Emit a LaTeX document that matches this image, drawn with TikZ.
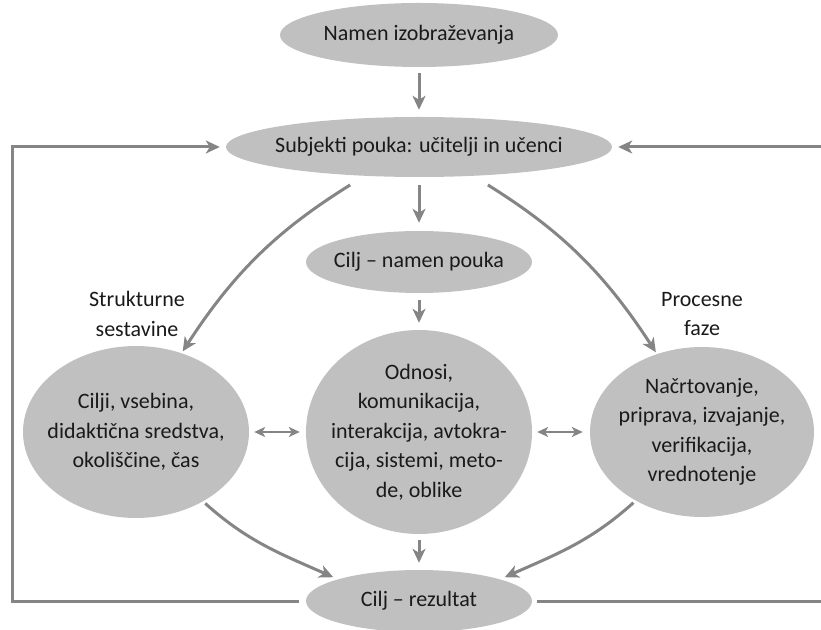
\documentclass[tikz,border=0pt]{standalone}
\usepackage{fontspec}
\setmainfont{Carlito}
\usetikzlibrary{arrows.meta,shapes.geometric}
\definecolor{blobgray}{HTML}{C0C0C0}
\definecolor{linegray}{HTML}{858585}
\definecolor{ink}{HTML}{1A1A1A}

\begin{document}
\begin{tikzpicture}[x=1pt,y=1pt,
  blob/.style 2 args={ellipse, fill=blobgray, draw=none,
    minimum width=#1pt, minimum height=#2pt, inner sep=0pt},
  txt/.style={align=center, font=\fontsize{22}{29.5}\selectfont, text=ink, inner sep=0pt},
  link/.style={draw=linegray, line width=3pt,
    -{Stealth[length=14pt,width=13pt,inset=4pt]}},
  pair/.style={draw=linegray, line width=2pt,
    {Stealth[length=11pt,width=10pt,inset=3pt]}-{Stealth[length=11pt,width=10pt,inset=3pt]}},
  frame/.style={draw=linegray, line width=3pt}
]
\useasboundingbox (0,0) rectangle (821,629);

% ellipses
\node[blob={278}{64}]  (nam) at (419,594) {};
\node[blob={386}{60}]  (sub) at (419,482) {};
\node[blob={226}{62}]  (cnp) at (419,367) {};
\node[blob={226}{172}] (L)   at (136,197) {};
\node[blob={226}{204}] (M)   at (419,197) {};
\node[blob={224}{170}] (R)   at (702,197) {};
\node[blob={226}{62}]  (bot) at (419,28)  {};

% texts
\node[txt] (namt) at (nam) {Namen izobraževanja};
\node[txt] (subt) at (sub) {Subjekti pouka: učitelji in učenci};
\node[txt] (cnpt) at (cnp) {Cilj – namen pouka};
\node[txt] (Lt)   at (L)   {Cilji, vsebina,\\didaktična sredstva,\\okoliščine, čas};
\node[txt] (Mt)   at (M)   {Odnosi,\\komunikacija,\\interakcija, avtokra-\\cija, sistemi, meto-\\de, oblike};
\node[txt] (Rt)   at (R)   {Načrtovanje,\\priprava, izvajanje,\\verifikacija,\\vrednotenje};
\node[txt] (bott) at (bot) {Cilj – rezultat};
\node[txt] (lab1) at (137,315) {Strukturne\\sestavine};
\node[txt] (lab2) at (702,315) {Procesne\\faze};

% vertical arrows
\draw[link, shorten <=6pt, shorten >=7pt] (nam) -- (sub);
\draw[link, shorten <=8pt, shorten >=8pt] (sub) -- (cnp);
\draw[link, shorten <=7pt, shorten >=7pt] (cnp) -- (M);
\draw[link, shorten <=6pt, shorten >=7pt] (M) -- (bot);

% curved arrows
\draw[link, shorten <=17pt, shorten >=2pt] (sub.208) to[out=212, in=57] (L.60);
\draw[link, shorten <=17pt, shorten >=2pt] (sub.-28) to[out=-32, in=123] (R.120);
\draw[link, shorten <=3pt, shorten >=5pt] (L.-46) to[out=-42, in=156] (bot.165);
\draw[link, shorten <=3pt, shorten >=5pt] (R.226) to[out=222, in=24] (bot.15);

% double arrows
\draw[pair, shorten <=5pt, shorten >=6pt] (L.east) -- (L.east -| M.west);
\draw[pair, shorten <=5pt, shorten >=7pt] (R.west -| M.east) -- (R.west);

% feedback loops
\coordinate (ledge) at (12,0);
\coordinate (redge) at (821,0);
\draw[link, shorten <=7pt, shorten >=6pt]
  (bot.west) -- (bot.west -| ledge) -- (sub.west -| ledge) -- (sub.west);
\draw[link, shorten >=6pt] (sub.east -| redge) -- (sub.east);
\draw[frame, shorten <=5pt] (bot.east) -- (bot.east -| redge);
\end{tikzpicture}
\end{document}
